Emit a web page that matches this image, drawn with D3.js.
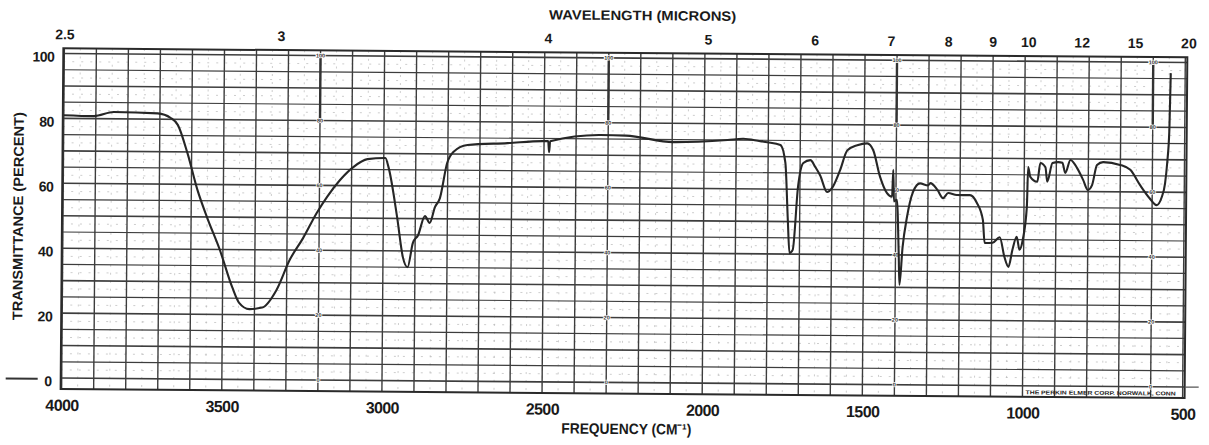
<!DOCTYPE html>
<html>
<head>
<meta charset="utf-8">
<script src="https://cdn.jsdelivr.net/npm/d3@7"></script>
<style>
  body { margin: 0; background: #fff; }
  svg { display: block; font-family: "Liberation Sans", Arial, sans-serif; }
</style>
</head>
<body>
<svg width="1209" height="445"></svg>
<script>
// spectrum (cm-1 / percent transmittance)
const wavenumber = [4000,3906,3844,3707,3666,3644,3613,3581,3550,3510,
  3470,3448,3416,3376,3332,3291,3250,3208,3176,3136,
  3095,3051,2995,2985,2957,2938,2923,2907,2891,2870,
  2855,2839,2824,2802,2783,2739,2614,2502,2487,2484,
  2481,2324,2245,2096,1927,1878,1825,1803,1762,1746,
  1737,1731,1721,1706,1690,1668,1652,1637,1615,1600,
  1575,1553,1522,1491,1472,1450,1428,1412,1409,1406,
  1397,1390,1387,1378,1365,1347,1325,1300,1293,1271,
  1253,1237,1210,1169,1147,1128,1122,1097,1075,1060,
  1047,1035,1022,1013,1003,991,988,981,959,950,
  934,928,912,894,881,872,856,835,816,801,
  788,773,754,701,669,638,608,586,570,560,
  554,548,545];
const transmittance = [81.0,80.8,82.1,81.8,80.4,78.3,69.6,58.3,49.8,40.0,
  28.4,23.6,21.7,22.2,27.6,37.0,43.7,51.5,56.5,61.7,
  65.7,68.2,68.6,65.8,50.5,38.1,35.0,42.5,44.9,50.8,
  48.7,53.6,56.3,67.2,70.6,72.8,73.5,74.2,74.2,70.8,
  74.2,76.2,76.1,74.2,75.0,75.4,74.7,74.4,73.6,68.1,
  50.5,40.3,41.3,60.7,68.1,69.0,66.8,64.3,59.2,60.4,
  66.0,72.1,73.7,74.3,72.2,64.0,59.0,57.9,66.2,56.5,
  57.0,40.5,30.8,42.4,51.7,59.4,62.1,61.5,62.2,60.2,
  57.6,59.2,58.6,58.6,56.2,51.0,43.9,44.0,45.7,39.7,
  36.6,41.9,45.9,41.9,45.0,55.2,67.4,64.4,62.9,68.7,
  67.4,62.9,68.7,69.0,68.8,65.7,69.7,67.2,63.6,60.5,
  62.0,68.2,69.1,68.3,66.8,62.1,58.1,56.0,58.5,62.8,
  69.0,79.2,96.7];

const freqTicks = [4000, 3500, 3000, 2500, 2000, 1500, 1000, 500];
const micronTicks = [2.5, 3, 4, 5, 6, 7, 8, 9, 10, 12, 15, 20];
const percentTicks = [0, 20, 40, 60, 80, 100];
const markerFreqs = [3200, 2300, 1400, 600];   // little calibration scales on the paper

const svg = d3.select("svg");
const width = +svg.attr("width");
const height = +svg.attr("height");

const x = d3.scaleLinear().domain([4000, 500]).range([63, 1184]);
const y = d3.scaleLinear().domain([0, 100]).range([382.5, 58]);

const gridColor = "#3d3d3d";
const xL = x(4000) - 1, xR = x(500) + 2;
const yT = y(101.6), yB = y(-3.4);

// scan is a little tilted
const g = svg.append("g").attr("transform", "rotate(0.46,620,220)");

// faint dotted paper lines
g.append("g").selectAll("line")
  .data(d3.range(3950, 500, -100))
  .join("line")
  .attr("x1", d => x(d)).attr("x2", d => x(d))
  .attr("y1", yT).attr("y2", yB)
  .attr("stroke", "#b8b8b8").attr("stroke-width", 0.7)
  .attr("stroke-dasharray", "2,6");
g.append("g").selectAll("line")
  .data(d3.range(2.5, 100, 5))
  .join("line")
  .attr("x1", xL).attr("x2", xR)
  .attr("y1", d => y(d)).attr("y2", d => y(d))
  .attr("stroke", "#b8b8b8").attr("stroke-width", 0.7)
  .attr("stroke-dasharray", "2,7");

// main grid
g.append("g").selectAll("line")
  .data(d3.range(4000, 499, -100))
  .join("line")
  .attr("x1", d => x(d)).attr("x2", d => x(d))
  .attr("y1", yT).attr("y2", yB)
  .attr("stroke", gridColor).attr("stroke-width", 1.4);
g.append("g").selectAll("line")
  .data(d3.range(0, 101, 5))
  .join("line")
  .attr("x1", xL).attr("x2", xR)
  .attr("y1", d => y(d)).attr("y2", d => y(d))
  .attr("stroke", gridColor)
  .attr("stroke-width", d => d % 10 === 0 ? 1.6 : 1.2);

// frame
g.append("rect")
  .attr("x", xL).attr("y", yT)
  .attr("width", xR - xL).attr("height", yB - yT)
  .attr("fill", "none").attr("stroke", "#2a2a2a").attr("stroke-width", 2);

// zero line runs out of the frame
g.append("line").attr("x1", 7).attr("x2", 39).attr("y1", y(0) + 1).attr("y2", y(0) + 1)
  .attr("stroke", "#333").attr("stroke-width", 2);
g.append("line").attr("x1", xR).attr("x2", 1200).attr("y1", y(0)).attr("y2", y(0))
  .attr("stroke", "#555").attr("stroke-width", 1.2);

// calibration marks
const marks = g.append("g");
markerFreqs.forEach(f => {
  marks.append("line")
    .attr("x1", x(f)).attr("x2", x(f))
    .attr("y1", y(100)).attr("y2", y(80))
    .attr("stroke", "#333").attr("stroke-width", 2.4);
  marks.selectAll(null)
    .data(percentTicks)
    .join("text")
    .attr("x", x(f)).attr("y", d => y(d))
    .attr("dy", "0.35em")
    .attr("text-anchor", "middle")
    .attr("font-size", 5.5).attr("font-weight", "bold")
    .attr("fill", "#333")
    .attr("stroke", "#fff").attr("stroke-width", 1.5).attr("paint-order", "stroke")
    .text(d => d);
});

// spectrum
const line = d3.line()
  .x(d => x(d[0]))
  .y(d => y(d[1]))
  .curve(d3.curveMonotoneX);
g.append("path")
  .datum(d3.zip(wavenumber, transmittance))
  .attr("d", line)
  .attr("fill", "none")
  .attr("stroke", "#262626")
  .attr("stroke-width", 2.1)
  .attr("stroke-linejoin", "round");

// frequency axis
const xAxisG = g.append("g")
  .attr("transform", `translate(0,${yB})`)
  .call(d3.axisBottom(x).tickValues(freqTicks).tickSize(0).tickPadding(10.4).tickFormat(d3.format("d")));
xAxisG.select(".domain").remove();
xAxisG.selectAll("text")
  .attr("font-size", 16).attr("font-weight", "bold")
  .attr("fill", "#1a1a1a").attr("letter-spacing", -0.6);

// wavelength axis
const muAxisG = g.append("g")
  .attr("transform", `translate(0,${yT})`)
  .call(d3.axisTop(x).tickValues(micronTicks.map(m => 1e4 / m)).tickSize(0).tickPadding(9)
    .tickFormat(d => String(+(1e4 / d).toFixed(1))));
muAxisG.select(".domain").remove();
muAxisG.selectAll("text")
  .attr("font-size", 14).attr("font-weight", "bold")
  .attr("fill", "#1a1a1a").attr("dx", (d, i) => i === 0 ? 0 : 3);

// percent axis
const yAxisG = g.append("g")
  .attr("transform", `translate(${xL},0)`)
  .call(d3.axisLeft(y).tickValues(percentTicks).tickSize(0).tickPadding(9));
yAxisG.select(".domain").remove();
yAxisG.selectAll("text")
  .attr("font-size", 14).attr("font-weight", "bold")
  .attr("fill", "#1a1a1a").attr("dy", "0.55em").attr("letter-spacing", -0.5);

// titles
g.append("text")
  .attr("x", 641).attr("y", 20)
  .attr("text-anchor", "middle")
  .attr("font-size", 13.5).attr("font-weight", "bold").attr("fill", "#1a1a1a")
  .attr("textLength", 187).attr("lengthAdjust", "spacingAndGlyphs")
  .text("WAVELENGTH (MICRONS)");
g.append("text")
  .attr("x", 628).attr("y", 434)
  .attr("text-anchor", "middle")
  .attr("font-size", 15).attr("font-weight", "bold").attr("fill", "#1a1a1a")
  .attr("textLength", 130).attr("lengthAdjust", "spacingAndGlyphs")
  .text("FREQUENCY (CM⁻¹)");
g.append("text")
  .attr("transform", "translate(23,221) rotate(-90)")
  .attr("text-anchor", "middle")
  .attr("font-size", 14).attr("font-weight", "bold").attr("fill", "#1a1a1a")
  .attr("textLength", 208).attr("lengthAdjust", "spacingAndGlyphs")
  .text("TRANSMITTANCE (PERCENT)");

// maker's imprint
g.append("text")
  .attr("x", 1102).attr("y", 391)
  .attr("text-anchor", "middle")
  .attr("font-size", 5.5).attr("font-weight", "bold").attr("fill", "#222")
  .attr("textLength", 150).attr("lengthAdjust", "spacingAndGlyphs")
  .text("THE PERKIN ELMER CORP. NORWALK, CONN");
</script>
</body>
</html>
